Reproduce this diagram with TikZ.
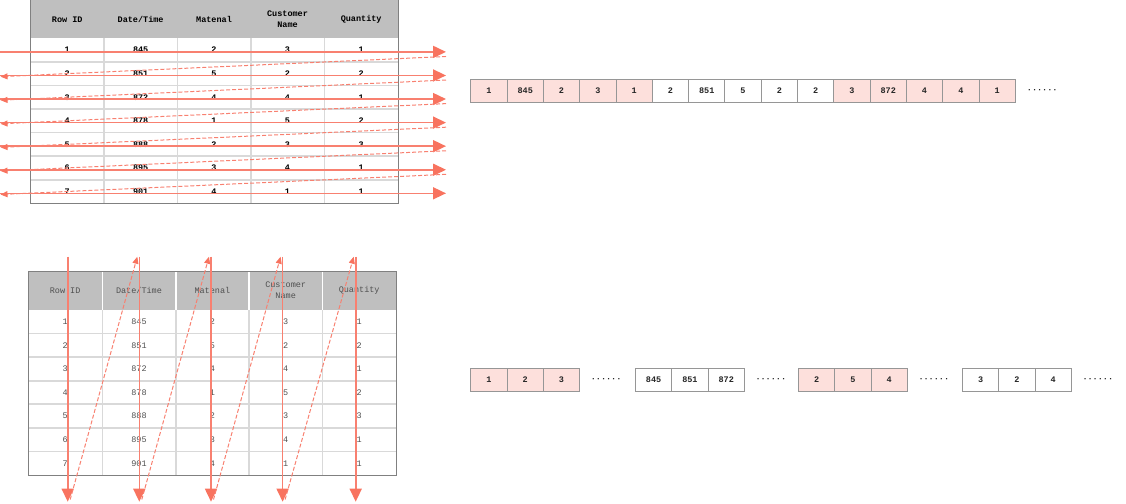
\documentclass[tikz,border=0pt]{standalone}
\usepackage{fontspec}
\setmonofont{Liberation Mono}
\usetikzlibrary{arrows.meta}
\definecolor{arr}{RGB}{248,115,95}
\definecolor{arrl}{RGB}{248,128,112}
\definecolor{pinkc}{RGB}{253,224,220}
\definecolor{hdr}{RGB}{191,191,191}
\definecolor{sepc}{RGB}{217,217,217}
\definecolor{outerc}{RGB}{128,128,128}
\definecolor{cellb}{RGB}{150,150,150}
\definecolor{txtb}{RGB}{80,80,80}
\tikzset{
  txt/.style={inner sep=0pt, text=black, font=\ttfamily\bfseries\fontsize{8.5}{10}\selectfont},
  btxt/.style={inner sep=0pt, text=txtb},
  hdrtxt/.style={inner sep=0pt, align=center, text=black, font=\ttfamily\bfseries\fontsize{8.5}{11}\selectfont},
  bhdrtxt/.style={inner sep=0pt, align=center, text=txtb, font=\ttfamily\fontsize{8.5}{11}\selectfont},
  solidarr/.style={draw=arrl, line width=1.6pt, -{Triangle[length=13pt,width=12pt,color=arr]}},
  dasharr/.style={draw=arrl, line width=1pt, dash pattern=on 4pt off 2pt, -{Triangle[length=7pt,width=6pt,color=arr]}},
  cellbox/.style={draw=cellb, line width=0.9pt, minimum width=36.3pt, minimum height=22.4pt, inner sep=0pt, anchor=north west, text=black!85, font=\ttfamily\bfseries\fontsize{8.5}{10}\selectfont},
  dotstxt/.style={inner sep=0pt, text=black!85, font=\ttfamily\bfseries\fontsize{8.5}{10}\selectfont}
}
\begin{document}
\begin{tikzpicture}[x=1pt,y=-1pt, font=\ttfamily\fontsize{8.5}{10}\selectfont]
\useasboundingbox (0,0) rectangle (1126,503);

% ---------- top table ----------
\fill[hdr] (30.5,0) rectangle (398,38.3);
\foreach \x in {104,177.3,250.7,324.3} \draw[sepc, line width=1.6pt] (\x,38.3) -- (\x,203.3);
\foreach \i in {1,...,6} \draw[sepc, line width=1.6pt] (30.5,38.3+\i*23.57) -- (398,38.3+\i*23.57);
\draw[outerc, line width=1pt] (30.5,0) rectangle (398,203.3);

\node[hdrtxt] (th1) at (67.25,19.5) {Row ID};
\node[hdrtxt] (th2) at (140.65,19.5) {Date/Time};
\node[hdrtxt] (th3) at (214,19.5) {Matenal};
\node[hdrtxt] (th4) at (287.5,19.5) {Customer\\Name};
\node[hdrtxt] (th5) at (361.15,19.5) {Quantity};

\foreach \r/\a/\b/\c/\d/\e in {1/1/845/2/3/1,2/2/851/5/2/2,3/3/872/4/4/1,4/4/878/1/5/2,5/5/888/2/3/3,6/6/895/3/4/1,7/7/901/4/1/1}{
  \pgfmathsetmacro\yy{38.3+(\r-0.5)*23.57}
  \node[txt] (ta-\r-1) at (67.25,\yy) {\a};
  \node[txt] (ta-\r-2) at (140.65,\yy) {\b};
  \node[txt] (ta-\r-3) at (214,\yy) {\c};
  \node[txt] (ta-\r-4) at (287.5,\yy) {\d};
  \node[txt] (ta-\r-5) at (361.15,\yy) {\e};
}

% top arrows
\foreach \r in {1,...,7}{
  \pgfmathsetmacro\yy{38.3+(\r-0.5)*23.57+1.8}
  \coordinate (hl-\r) at (0,\yy);
  \coordinate (hr-\r) at (446,\yy);
  \coordinate (dl-\r) at (0.5,\yy+1.2);
  \coordinate (dr-\r) at (446,\yy+4.6);
}
\foreach \r in {1,...,7} \draw[solidarr] (hl-\r) -- (hr-\r);
\foreach \r [evaluate=\r as \n using int(\r+1)] in {1,...,6} \draw[dasharr] (dr-\r) -- (dl-\n);

% ---------- bottom table ----------
\fill[hdr] (28,271) rectangle (396,310);
\foreach \x in {102.3,175.7,249,322.3} {
  \draw[white, line width=1.6pt] (\x,271) -- (\x,310);
  \draw[sepc, line width=1.6pt] (\x,310) -- (\x,475);
}
\foreach \i in {1,...,6} \draw[sepc, line width=1.6pt] (28,310+\i*23.57) -- (396,310+\i*23.57);
\draw[outerc, line width=1pt] (28,271) rectangle (396,475);

\node[bhdrtxt] (bh1) at (65.15,290.5) {Row ID};
\node[bhdrtxt] (bh2) at (139,290.5) {Date/Time};
\node[bhdrtxt] (bh3) at (212.35,290.5) {Matenal};
\node[bhdrtxt] (bh4) at (285.65,290.5) {Customer\\Name};
\node[bhdrtxt] (bh5) at (359.15,290.5) {Quantity};

\foreach \r/\a/\b/\c/\d/\e in {1/1/845/2/3/1,2/2/851/5/2/2,3/3/872/4/4/1,4/4/878/1/5/2,5/5/888/2/3/3,6/6/895/3/4/1,7/7/901/4/1/1}{
  \pgfmathsetmacro\yy{310+(\r-0.5)*23.57}
  \node[btxt] (tb-\r-1) at (65.15,\yy) {\a};
  \node[btxt] (tb-\r-2) at (139,\yy) {\b};
  \node[btxt] (tb-\r-3) at (212.35,\yy) {\c};
  \node[btxt] (tb-\r-4) at (285.65,\yy) {\d};
  \node[btxt] (tb-\r-5) at (359.15,\yy) {\e};
}

% bottom arrows
\foreach \c/\x in {1/67.7,2/139.3,3/211,4/282.6,5/355.7}{
  \coordinate (vt-\c) at (\x,256.7);
  \coordinate (vb-\c) at (\x,501.7);
  \coordinate (dt-\c) at (\x-2,256.7);
  \coordinate (db-\c) at (\x+2.5,499.5);
}
\foreach \c in {1,...,5} \draw[solidarr] (vt-\c) -- (vb-\c);
\foreach \c [evaluate=\c as \n using int(\c+1)] in {1,...,4} \draw[dasharr] (db-\c) -- (dt-\n);

% ---------- top strip ----------
\foreach \v [count=\i] in {1,845,2,3,1,2,851,5,2,2,3,872,4,4,1}{
  \pgfmathsetmacro\xx{470.3+(\i-1)*36.3}
  \ifnum\i<6 \def\fc{pinkc}\else\ifnum\i>10 \def\fc{pinkc}\else\def\fc{white}\fi\fi
  \node[cellbox, fill=\fc] (s1-\i) at (\xx,79.3) {\v};
}
\node[dotstxt, anchor=west] (s1dots) at ([xshift=11pt]s1-15.east) {······};

% ---------- bottom strip ----------
\foreach \g/\gx/\fc/\va/\vb/\vc in {1/470.3/pinkc/1/2/3, 2/635/white/845/851/872, 3/798/pinkc/2/5/4, 4/962/white/3/2/4}{
  \node[cellbox, fill=\fc] (s2-\g-1) at (\gx,368.3) {\va};
  \node[cellbox, fill=\fc] (s2-\g-2) at (\gx+36.3,368.3) {\vb};
  \node[cellbox, fill=\fc] (s2-\g-3) at (\gx+72.6,368.3) {\vc};
  \node[dotstxt, anchor=west] (s2dots-\g) at ([xshift=10.5pt]s2-\g-3.east) {······};
}
\end{tikzpicture}
\end{document}
